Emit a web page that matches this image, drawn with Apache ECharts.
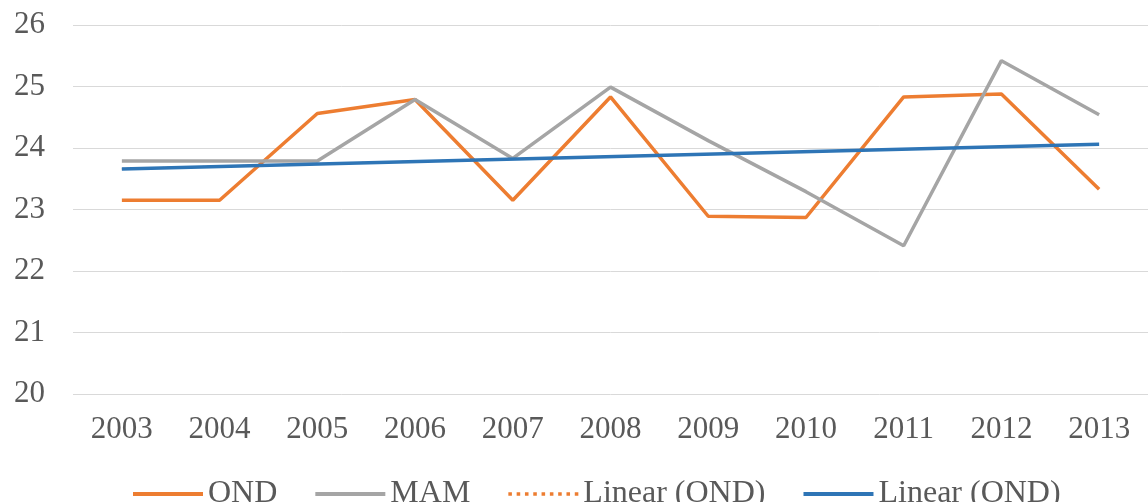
<!DOCTYPE html>
<html>
<head>
<meta charset="utf-8">
<script src="https://cdn.jsdelivr.net/npm/echarts@6/dist/echarts.min.js"></script>
<style>
html,body{margin:0;padding:0;background:#fff;}
#chart{width:1148px;height:502px;}
</style>
</head>
<body>
<div id="chart"></div>
<script>
const years = ['2003','2004','2005','2006','2007','2008','2009','2010','2011','2012','2013'];
const ond = [23.15, 23.15, 24.56, 24.79, 23.15, 24.83, 22.89, 22.87, 24.83, 24.88, 23.33];
const mam = [23.79, 23.79, 23.79, 24.79, 23.83, 24.99, 24.12, 23.29, 22.41, 25.42, 24.54];
const trendOnd = [23.66, null, null, null, null, null, null, null, null, null, 24.06];
const yTicks = [20, 21, 22, 23, 24, 25, 26];

const font = '"Liberation Serif", "Times New Roman", serif';
const solidIcon = 'path://M0 0h70v4h-70z';
const dotIcon = 'path://M0 0h3v3h-3z M7 0h3v3h-3z M14 0h3v3h-3z M21 0h3v3h-3z M28 0h3v3h-3z M35 0h3v3h-3z M42 0h3v3h-3z M49 0h3v3h-3z M56 0h3v3h-3z';

const chart = echarts.init(document.getElementById('chart'), null, {renderer: 'canvas'});
chart.setOption({
  backgroundColor: '#ffffff',
  animation: false,
  grid: {left: 73, right: -9, top: 25, bottom: 108, containLabel: false},
  xAxis: {
    type: 'category',
    data: years,
    boundaryGap: true,
    axisLine: {show: false},
    axisTick: {show: false},
    axisLabel: {color: '#595959', fontFamily: font, fontSize: 31, margin: 20}
  },
  yAxis: {
    type: 'value',
    min: yTicks[0],
    max: yTicks[yTicks.length - 1],
    interval: 1,
    axisLine: {show: false},
    axisTick: {show: false},
    splitLine: {lineStyle: {color: '#D9D9D9', width: 1}},
    axisLabel: {color: '#595959', fontFamily: font, fontSize: 31, margin: 28}
  },
  legend: {
    left: 128,
    top: 473,
    itemWidth: 70,
    itemHeight: 4,
    itemGap: 38,
    textStyle: {color: '#595959', fontFamily: font, fontSize: 32},
    formatter: function (n) { return n.trim(); },
    data: [
      {name: 'OND', icon: solidIcon},
      {name: 'MAM', icon: solidIcon},
      {name: 'Linear (OND)', icon: dotIcon},
      {name: 'Linear (OND) ', icon: solidIcon}
    ]
  },
  series: [
    {
      name: 'OND', type: 'line', data: ond, symbol: 'none',
      lineStyle: {color: '#ED7D31', width: 3.5}, itemStyle: {color: '#ED7D31'}
    },
    {
      name: 'MAM', type: 'line', data: mam, symbol: 'none',
      lineStyle: {color: '#A5A5A5', width: 3.5}, itemStyle: {color: '#A5A5A5'}
    },
    {
      name: 'Linear (OND)', type: 'line', data: trendOnd, symbol: 'none', connectNulls: true,
      lineStyle: {color: '#ED7D31', width: 2, type: [2, 3]}, itemStyle: {color: '#ED7D31'}, z: 1
    },
    {
      name: 'Linear (OND) ', type: 'line', data: trendOnd, symbol: 'none', connectNulls: true,
      lineStyle: {color: '#2E75B6', width: 3.5}, itemStyle: {color: '#2E75B6'}, z: 3
    }
  ]
});
</script>
</body>
</html>
